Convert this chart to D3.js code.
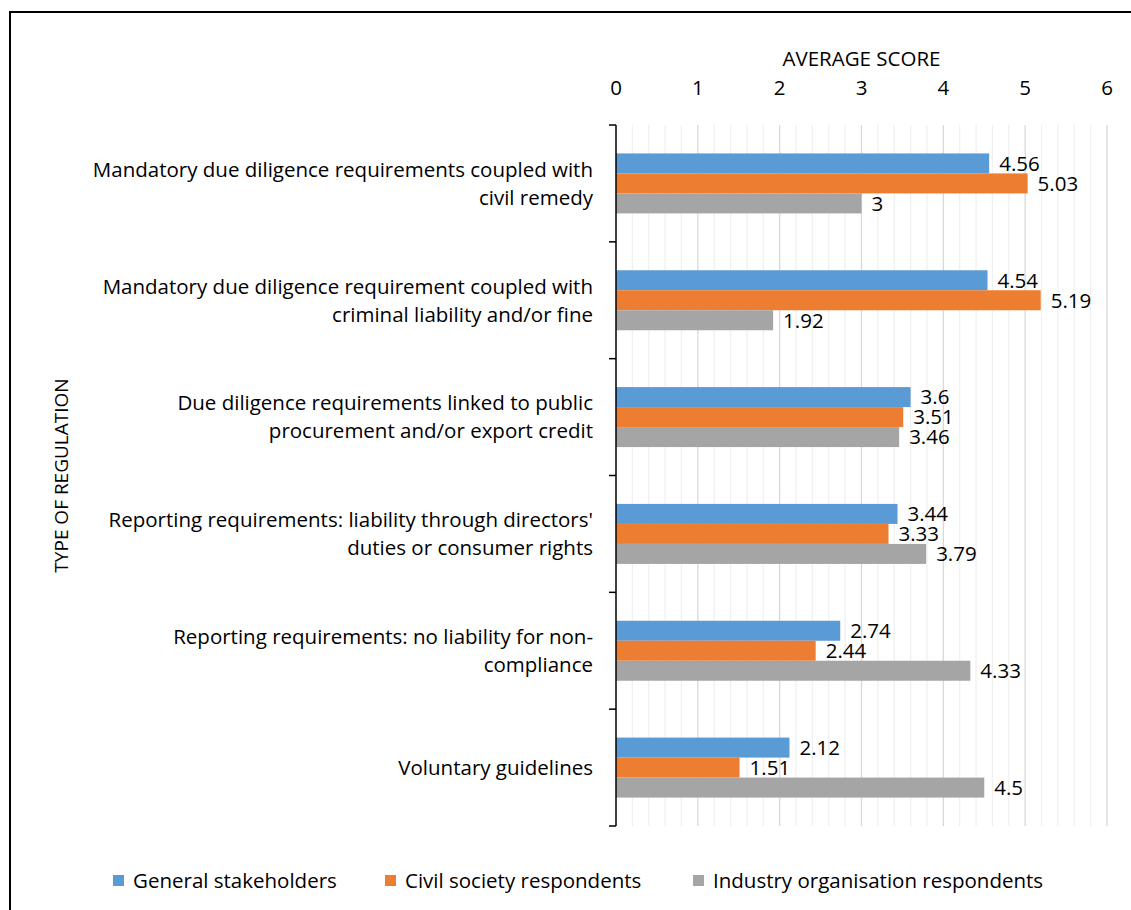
<!DOCTYPE html>
<html>
<head>
<meta charset="utf-8">
<script src="https://cdn.jsdelivr.net/npm/d3@7"></script>
<style>
  body { margin: 0; background: #fff; }
  svg text { font-family: "Open Sans", "Noto Sans", sans-serif; fill: #000; }
</style>
</head>
<body>
<div id="chart"></div>
<script>
// data
const categories = [
    ["Mandatory due diligence requirements coupled with", "civil remedy"],
    ["Mandatory due diligence requirement coupled with", "criminal liability and/or fine"],
    ["Due diligence requirements linked to public", "procurement and/or export credit"],
    ["Reporting requirements: liability through directors'", "duties or consumer rights"],
    ["Reporting requirements: no liability for non-", "compliance"],
    ["Voluntary guidelines"]
];
const seriesNames = ["General stakeholders", "Civil society respondents", "Industry organisation respondents"];
const seriesColors = ["#5B9BD5", "#ED7D31", "#A5A5A5"];
const general = [4.56, 4.54, 3.6, 3.44, 2.74, 2.12];
const civil = [5.03, 5.19, 3.51, 3.33, 2.44, 1.51];
const industry = [3, 1.92, 3.46, 3.79, 4.33, 4.5];
const xTicks = [0, 1, 2, 3, 4, 5, 6];

const width = 1131, height = 910;
const margin = {top: 125, right: 24, bottom: 84, left: 616};
const fs = "20.5px";

let svg = d3.select("#chart")
    .append("svg")
    .attr("width", width)
    .attr("height", height);

// outer frame (runs off the right and bottom edge like the original)
svg.append("rect")
    .attr("x", 10).attr("y", 12)
    .attr("width", 1200).attr("height", 1000)
    .attr("fill", "none")
    .attr("stroke", "#000")
    .attr("stroke-width", 2);

let g = svg.append("g")
    .attr("transform", `translate(${margin.left}, ${margin.top})`);

let plotW = width - margin.left - margin.right;   // 491
let plotH = height - margin.top - margin.bottom;  // 701

let x = d3.scaleLinear().domain([0, 6]).range([0, plotW]);
let y = d3.scaleBand().domain(d3.range(categories.length)).range([0, plotH]);
let inner = d3.scaleBand().domain(d3.range(3)).range([0, 60]);

// minor gridlines every 0.2
let minor = d3.range(0, 6.001, 0.2).filter(v => Math.abs(v - Math.round(v)) > 1e-6);
g.append("g").selectAll("line").data(minor).enter().append("line")
    .attr("x1", d => x(d)).attr("x2", d => x(d))
    .attr("y1", 0).attr("y2", plotH)
    .attr("stroke", "#f0f0f0").attr("stroke-width", 1.3);

g.append("g").selectAll("line").data(xTicks.slice(1)).enter().append("line")
    .attr("x1", d => x(d)).attr("x2", d => x(d))
    .attr("y1", 0).attr("y2", plotH)
    .attr("stroke", "#d9d9d9").attr("stroke-width", 1.3);

// bars
let allSeries = [general, civil, industry];
allSeries.forEach(function (vals, si) {
    let grp = g.append("g");
    grp.selectAll("rect").data(vals).enter().append("rect")
        .attr("x", x(0))
        .attr("y", (d, i) => y(i) + (y.bandwidth() - 60) / 2 + inner(si))
        .attr("width", d => x(d))
        .attr("height", inner.bandwidth())
        .attr("fill", seriesColors[si]);
    grp.selectAll("text").data(vals).enter().append("text")
        .attr("x", d => x(d) + 10)
        .attr("y", (d, i) => y(i) + (y.bandwidth() - 60) / 2 + inner(si) + inner.bandwidth() / 2)
        .attr("dy", "0.36em")
        .style("font-size", fs)
        .text(d => d);
});

// top axis labels
g.append("g").selectAll("text").data(xTicks).enter().append("text")
    .attr("x", d => x(d)).attr("y", -30)
    .style("text-anchor", "middle")
    .style("font-size", fs)
    .text(d => d);

g.append("text")
    .attr("x", plotW / 2).attr("y", -59)
    .style("text-anchor", "middle")
    .style("font-size", fs)
    .text("AVERAGE SCORE");

// left category axis
let boundaries = d3.range(categories.length + 1).map(i => i * y.step());
g.append("line")
    .attr("x1", 0).attr("x2", 0).attr("y1", 0).attr("y2", plotH)
    .attr("stroke", "#000").attr("stroke-width", 1.5);
g.append("g").selectAll("line").data(boundaries).enter().append("line")
    .attr("x1", -7).attr("x2", 0)
    .attr("y1", d => d).attr("y2", d => d)
    .attr("stroke", "#000").attr("stroke-width", 1.5);

categories.forEach(function (lines, i) {
    let cy = y(i) + y.bandwidth() / 2;
    let lh = 28;
    let t = g.append("text")
        .attr("x", -23)
        .attr("y", cy - (lines.length - 1) * lh / 2)
        .style("text-anchor", "end")
        .style("font-size", fs);
    lines.forEach(function (l, j) {
        t.append("tspan").attr("x", -23).attr("dy", j === 0 ? "0.36em" : lh).text(l);
    });
});

svg.append("text")
    .attr("transform", `translate(68, ${margin.top + plotH / 2}) rotate(-90)`)
    .style("text-anchor", "middle")
    .style("font-size", "19px")
    .text("TYPE OF REGULATION");

// legend
let legendX = [113, 385, 693];
seriesNames.forEach(function (name, i) {
    svg.append("rect")
        .attr("x", legendX[i]).attr("y", 875)
        .attr("width", 11).attr("height", 11)
        .attr("fill", seriesColors[i]);
    svg.append("text")
        .attr("x", legendX[i] + 20).attr("y", 881)
        .attr("dy", "0.36em")
        .style("font-size", fs)
        .text(name);
});
</script>
</body>
</html>
